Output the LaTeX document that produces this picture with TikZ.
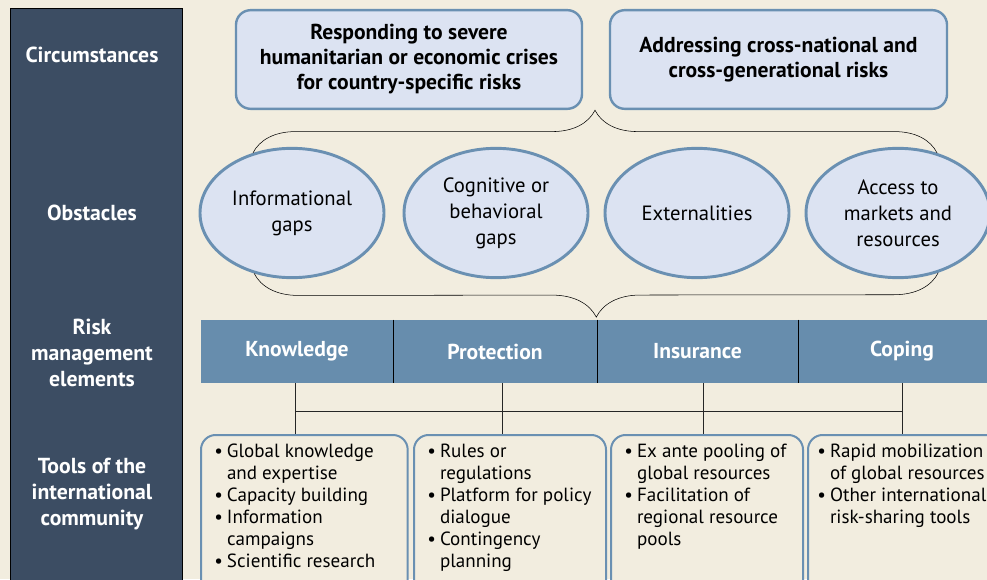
\documentclass[tikz,border=0pt]{standalone}
\usepackage{fontspec}
\setmainfont{PT Sans}
\usetikzlibrary{shapes.geometric, decorations.pathreplacing, calc}
\definecolor{pagebg}{RGB}{242,237,223}
\definecolor{panelcol}{RGB}{60,77,99}
\definecolor{boxfill}{RGB}{220,227,242}
\definecolor{boxline}{RGB}{106,144,178}
\definecolor{barcol}{RGB}{103,141,173}
\tikzset{
  basetxt/.style={align=center,font=\fontsize{15.5}{19.5}\selectfont},
  rowlabel/.style={basetxt,text=white,font=\fontsize{16.3}{19.2}\selectfont\bfseries},
  circbox/.style={basetxt,rectangle,rounded corners=11pt,draw=boxline,line width=1.8pt,fill=boxfill,
    minimum height=74pt,font=\fontsize{16.2}{18.75}\selectfont\bfseries},
  gapnode/.style={basetxt,ellipse,draw=boxline,line width=2.2pt,fill=boxfill,
    minimum width=138pt,minimum height=97pt,inner sep=0pt},
  elemcell/.style={basetxt,rectangle,fill=barcol,text=white,minimum height=47.25pt,inner sep=0pt,
    font=\fontsize{16.2}{18}\selectfont\bfseries},
  toolbox/.style={rectangle,rounded corners=11pt,draw=boxline,line width=1.5pt,fill=pagebg,
    anchor=north west,inner xsep=10pt,inner ysep=7pt,font=\fontsize{14.3}{16.5}\selectfont},
  bracelin/.style={decorate,thin,color=black},
  divline/.style={thin,color=black},
  linkline/.style={thin,color=black!85}
}
\newcommand{\bul}[1]{\par\hangindent=9.5pt\hangafter=1\noindent\makebox[9.5pt][l]{\textbullet}#1}
\newcommand{\toolbody}[2]{\parbox[t][106pt][t]{#1}{#2}}

\begin{document}
\begin{tikzpicture}[x=0.75pt,y=0.75pt]
  \fill[pagebg] (0,0) rectangle (987,579);
  \useasboundingbox (0,0) rectangle (987,579);
  \clip (0,0) rectangle (987,579);

  \node[rectangle,fill=panelcol,draw=black,thin,minimum width=129pt,minimum height=436pt] (panel) at (96,280.5) {};
  \node[rowlabel] (lcirc) at (92,524) {Circumstances};
  \node[rowlabel] (lobst) at (92,366) {Obstacles};
  \node[rowlabel] (lrisk) at (92,226) {Risk\\management\\elements};
  \node[rowlabel] (ltool) at (92,85) {Tools of the\\international\\community};

  \node[circbox,minimum width=259.5pt] (sevr) at (409,519.5) {\raisebox{-3pt}{\parbox{250pt}{\centering Responding to severe\\humanitarian or economic crises\\for country-specific risks}}};
  \node[circbox,minimum width=252.75pt] (xnat) at (778.5,519.5) {Addressing cross-national and\\cross-generational risks};

  \node[gapnode] (info) at (292,366) {Informational\\gaps};
  \node[gapnode] (cogn) at (496,366) {Cognitive or\\behavioral\\gaps};
  \node[gapnode] (extn) at (697,366) {Externalities};
  \node[gapnode] (accs) at (898,366) {Access to\\markets and\\resources};

  \draw[bracelin,decoration={brace,amplitude=32pt}] (info.123) -- (accs.57);
  \draw[bracelin,decoration={brace,amplitude=33pt}] (accs.304) -- (info.238);

  \node[elemcell,minimum width=144pt] (know) at (297,227.5) {Knowledge};
  \node[elemcell,minimum width=153pt] (prot) at (495,227.5) {Protection};
  \node[elemcell,minimum width=150.75pt] (insr) at (697.5,227.5) {Insurance};
  \node[elemcell,minimum width=156pt] (copn) at (902,227.5) {Coping};
  \draw[divline] (know.north east) -- (know.south east);
  \draw[divline] (prot.north east) -- (prot.south east);
  \draw[divline] (insr.north east) -- (insr.south east);

  \node[toolbox] (kbox) at (200,145) {\toolbody{135pt}{%
    \bul{Global knowledge\\and expertise}\bul{Capacity building}%
    \bul{Information\\campaigns}\bul{Scientific research}}};
  \node[toolbox] (pbox) at (413,145) {\toolbody{124pt}{%
    \bul{Rules or\\regulations}\bul{Platform for policy\\dialogue}%
    \bul{Contingency\\planning}}};
  \node[toolbox] (ibox) at (610,145) {\toolbody{124pt}{%
    \bul{Ex ante pooling of\\global resources}\bul{Facilitation of\\regional resource\\pools}}};
  \node[toolbox,inner xsep=7pt] (cbox) at (807,145) {\toolbody{136pt}{%
    \bul{Rapid mobilization\\of global resources}\bul{Other international\\risk-sharing tools}}};

  \coordinate (j1) at (295,168);
  \coordinate (j2) at (502,168);
  \coordinate (j3) at (703,168);
  \coordinate (j4) at (902,168);
  \draw[linkline] (j1 |- know.south) -- (j1 |- kbox.north);
  \draw[linkline] (j2 |- prot.south) -- (j2 |- pbox.north);
  \draw[linkline] (j3 |- insr.south) -- (j3 |- ibox.north);
  \draw[linkline] (j4 |- copn.south) -- (j4 |- cbox.north);
  \draw[linkline] (j1) -- (j4);
\end{tikzpicture}
\end{document}
